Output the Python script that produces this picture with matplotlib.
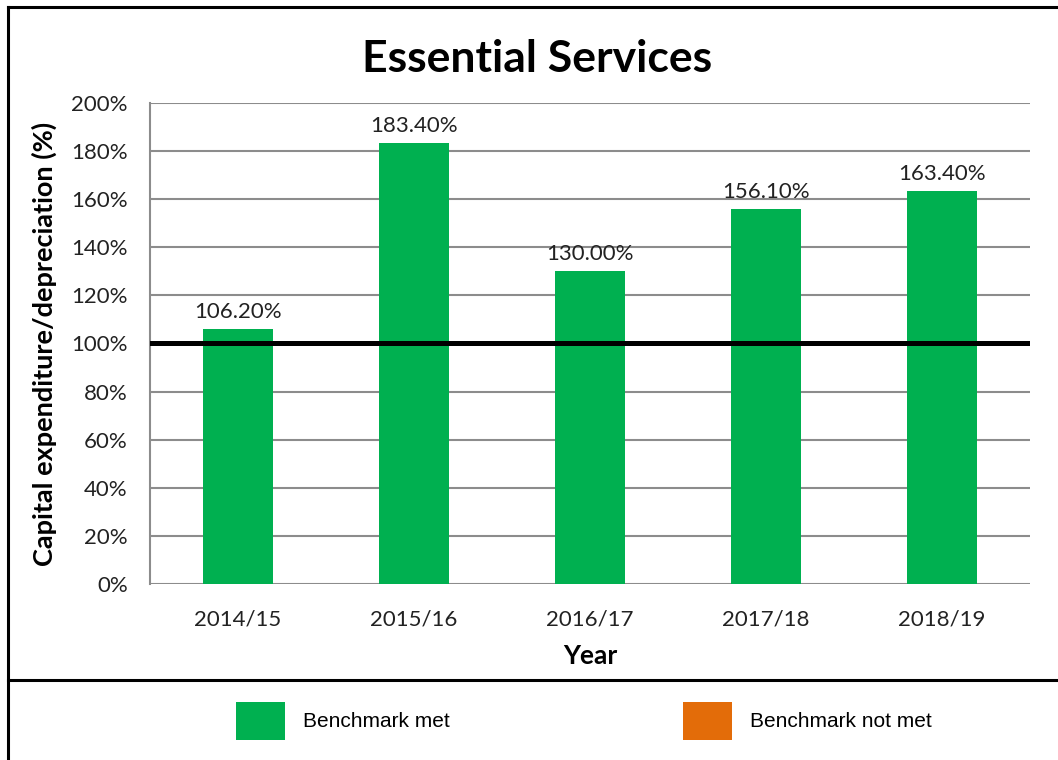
import matplotlib
matplotlib.use("Agg")
import matplotlib.pyplot as plt
from matplotlib.lines import Line2D
from matplotlib.patches import Patch
from matplotlib.ticker import FuncFormatter

years = ['2014/15', '2015/16', '2016/17', '2017/18', '2018/19']
ratios = [106.2, 183.4, 130.0, 156.1, 163.4]
benchmark = 100
legend_labels = ['Benchmark met', 'Benchmark not met']

green = '#00b050'
orange = '#e36c09'
grid_grey = '#8c8c8c'

plt.rcParams['font.family'] = ['Lato', 'DejaVu Sans']

fig = plt.figure(figsize=(10.58, 7.6), dpi=100)
ax = fig.add_axes([150/1058, 1 - 584/760, 880/1058, 481/760])

x = range(len(years))
ax.bar(x, ratios, width=0.4, color=green, zorder=2)
ax.axhline(benchmark, color='black', linewidth=3.6, zorder=3)

for xi, v in zip(x, ratios):
    ax.annotate('{:.2f}%'.format(v), (xi, v), xytext=(0, 5), textcoords='offset points',
                ha='center', va='bottom', fontsize=16, color='#222222')

ax.set_xlim(-0.5, len(years) - 0.5)
ax.set_ylim(0, 200)
ax.set_yticks(range(0, 201, 20))
ax.yaxis.set_major_formatter(FuncFormatter(lambda v, p: '{:d}%'.format(int(v))))
ax.set_xticks(list(x))
ax.set_xticklabels(years)
ax.tick_params(axis='y', length=0, pad=16, labelsize=16, labelcolor='#222222')
ax.tick_params(axis='x', length=0, pad=18, labelsize=16, labelcolor='#222222')

ax.grid(axis='y', color=grid_grey, linewidth=1.5, zorder=0)
for s in ['top', 'right', 'bottom']:
    ax.spines[s].set_visible(False)
ax.spines['left'].set_color(grid_grey)
ax.spines['left'].set_linewidth(1.5)

ax.set_ylabel('Capital expenditure/depreciation (%)', fontsize=19.5, fontweight='bold', labelpad=10)
ax.set_xlabel('Year', fontsize=19, fontweight='bold', labelpad=11)

fig.text(537/1058, 1 - 59/760, 'Essential Services', ha='center', va='center',
         fontsize=32, fontweight='bold')

# frame lines
fig.add_artist(Line2D([8/1058, 1], [1 - 7/760, 1 - 7/760], color='black', linewidth=2.2))
fig.add_artist(Line2D([8/1058, 8/1058], [0, 1 - 7/760], color='black', linewidth=2.2))
fig.add_artist(Line2D([8/1058, 1], [1 - 680/760, 1 - 680/760], color='black', linewidth=2.2))

handles = [Patch(facecolor=green, edgecolor='none'), Patch(facecolor=orange, edgecolor='none')]
fig.legend(handles, legend_labels, loc='center', bbox_to_anchor=(584/1058, 1 - 721/760),
           ncol=2, frameon=False, handlelength=2.35, handleheight=2.5, handletextpad=0.86,
           columnspacing=11.2, prop={'family': 'Liberation Sans', 'size': 15})

fig.savefig('out.png', dpi=100)
